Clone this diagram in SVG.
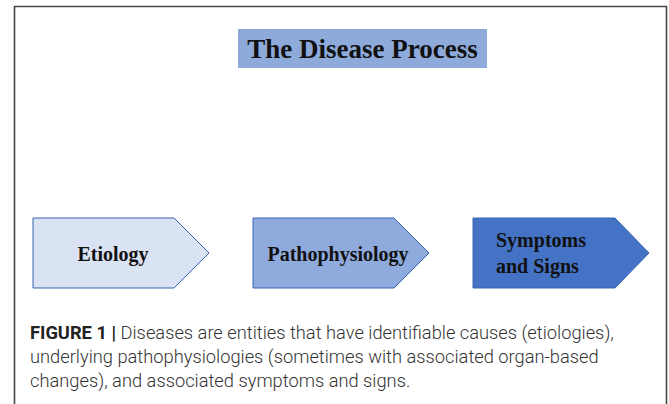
<svg xmlns="http://www.w3.org/2000/svg" width="669" height="404" viewBox="0 0 669 404">
<style>
.frame{fill:none;stroke:#474747;stroke-width:1.6}
.arrow{stroke:#3a64b0;stroke-width:1}
.lbl{font-family:"Liberation Serif","Times New Roman",serif;font-weight:bold;font-size:20px;fill:#111}
.title{font-family:"Liberation Serif","Times New Roman",serif;font-weight:bold;font-size:27px;fill:#111}
.cap{font-family:Roboto,"Liberation Sans",sans-serif;font-size:18.3px;fill:#333333;font-weight:300}
.capb{font-weight:bold;fill:#222}
</style>
<rect width="669" height="404" fill="#ffffff"/>
<path class="frame" d="M14.5,404 V6.5 H666.5 V404"/>
<g id="title">
<rect x="238" y="29" width="249" height="39" fill="#8eaadb"/>
<text class="title" x="362.5" y="58" text-anchor="middle">The Disease Process</text>
</g>
<g id="connectors"></g>
<g id="etiology">
<polygon class="arrow" points="33,218 174,218 209,253 174,288 33,288" fill="#dae3f3"/>
<text class="lbl" x="113" y="261" text-anchor="middle">Etiology</text>
</g>
<g id="pathophysiology">
<polygon class="arrow" points="253,218 394,218 429,253 394,288 253,288" fill="#8faadc"/>
<text class="lbl" x="338" y="261" text-anchor="middle">Pathophysiology</text>
</g>
<g id="symptoms">
<polygon class="arrow" points="473,218 615,218 649,253 615,288 473,288" fill="#4472c4"/>
<text class="lbl" x="496" y="247">Symptoms</text>
<text class="lbl" x="496" y="273">and Signs</text>
</g>
<g id="caption">
<text class="cap" x="30" y="339"><tspan class="capb">FIGURE 1 |</tspan> Diseases are entities that have identifiable causes (etiologies),</text>
<text class="cap" x="30" y="363">underlying pathophysiologies (sometimes with associated organ-based</text>
<text class="cap" x="30" y="387">changes), and associated symptoms and signs.</text>
</g>
</svg>
